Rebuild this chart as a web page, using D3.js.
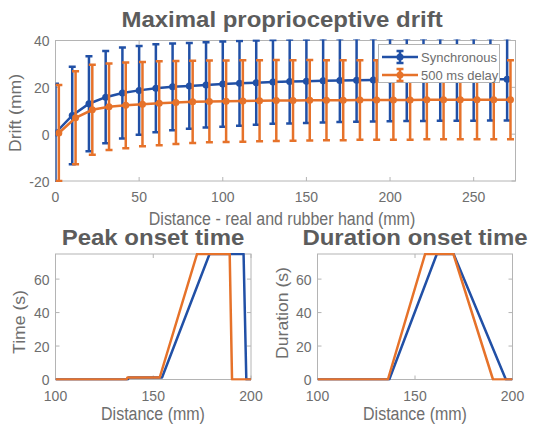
<!DOCTYPE html>
<html>
<head>
<meta charset="utf-8">
<script src="https://cdn.jsdelivr.net/npm/d3@7"></script>
<style>
  body { margin: 0; background: #fff; }
  svg { display: block; font-family: "Liberation Sans", Arial, sans-serif; }
</style>
</head>
<body>
<svg id="chart" width="533" height="425"></svg>
<script>
// drift vs distance (mm) -- synchronous vs 500 ms delay
var syncDist = [0,10,20,30,40,50,60,70,80,90,100,110,120,130,140,150,160,170,180,190,200,210,220,230,240,250,260,270];
var syncMean = [0.5,8,13,15.8,17.6,18.7,19.6,20.2,20.6,21,21.4,21.7,22,22.3,22.5,22.6,22.8,22.9,23,23.1,23.1,23.2,23.2,23.3,23.3,23.3,23.4,23.4];
var syncErr  = [21,20.8,20.3,19.7,19.4,19,18.8,18.5,18.3,18.2,18.2,18.1,18,17.9,17.9,17.8,17.8,17.7,17.7,17.7,17.6,17.6,17.6,17.6,17.6,17.6,17.6,17.6];
var delayDist = [2,12,22,32,42,52,62,72,82,92,102,112,122,132,142,152,162,172,182,192,202,212,222,232,242,252,262,272];
var delayMean = [0.5,7,10.4,11.7,12.3,12.8,13.2,13.5,13.8,14,14.1,14.2,14.3,14.4,14.4,14.5,14.5,14.5,14.6,14.6,14.6,14.6,14.7,14.7,14.7,14.7,14.7,14.7];
var delayErr  = [20.5,19.9,19.2,18.5,18.3,18,17.9,17.7,17.6,17.5,17.4,17.4,17.3,17.3,17.2,17.2,17.1,17.1,17,17,17,17,16.9,16.9,16.9,16.9,16.9,16.9];

// peak onset time (s) vs distance (mm)
var peakSyncX  = [100,137,137.5,154.5,178.8,196.2,197.6,200];
var peakSyncY  = [0,0,1.2,1.2,75,75,0,0];
var peakDelayX = [100,136.3,136.8,153.3,172.4,189.1,190.3,200];
var peakDelayY = [0,0,1.2,1.2,75,75,0,0];

// duration onset time (s) vs distance (mm)
var durSyncX  = [100,136.8,161.2,169.8,196.6,200];
var durSyncY  = [0,0,75,75,0,0];
var durDelayX = [100,136.1,155.2,169.7,190,200];
var durDelayY = [0,0,75,75,0,0];

var driftTicksX = [0,50,100,150,200,250];
var driftTicksY = [-20,0,20,40];
var onsetTicksX = [100,150,200];
var onsetTicksY = [0,20,40,60];

var BLUE = "#2150a6", ORANGE = "#e6722a";
var TXT = "#6e6e6e", TITLE = "#5c5c5c", BOX = "#b4b4b4";

var svg = d3.select("#chart");

// text helper; sy stretches glyphs vertically (the source image is a bit squashed)
function txt(x, y, s, size, opts) {
  opts = opts || {};
  var tr = "translate(" + x + "," + y + ") scale(1," + (opts.sy || 1) + ")";
  if (opts.rot) tr += " rotate(" + opts.rot + ")";
  return svg.append("text").attr("transform", tr)
    .attr("text-anchor", opts.anchor || "middle")
    .attr("font-size", size)
    .attr("font-weight", opts.bold ? "bold" : "normal")
    .attr("fill", opts.fill || TXT)
    .text(s);
}

function panel(x0, x1, y0, y1, xdom, ydom, xticks, yticks) {
  var x = d3.scaleLinear().domain(xdom).range([x0, x1]);
  var y = d3.scaleLinear().domain(ydom).range([y1, y0]);
  var g = svg.append("g");
  var id = "clip" + Math.round(x0) + "_" + Math.round(y0);
  svg.append("clipPath").attr("id", id).append("rect")
    .attr("x", x0).attr("y", y0 - 1).attr("width", x1 - x0).attr("height", y1 - y0 + 2);
  // ticks inside, both sides (matlab box)
  xticks.forEach(function(t){
    g.append("line").attr("x1", x(t)).attr("x2", x(t)).attr("y1", y1).attr("y2", y1 - 4)
      .attr("stroke", BOX).attr("stroke-width", 1);
    g.append("line").attr("x1", x(t)).attr("x2", x(t)).attr("y1", y0).attr("y2", y0 + 4)
      .attr("stroke", BOX).attr("stroke-width", 1);
    txt(x(t), y1 + 21, t, 14, {sy: 1.1});
  });
  yticks.forEach(function(t){
    g.append("line").attr("x1", x0).attr("x2", x0 + 4).attr("y1", y(t)).attr("y2", y(t))
      .attr("stroke", BOX).attr("stroke-width", 1);
    g.append("line").attr("x1", x1).attr("x2", x1 - 4).attr("y1", y(t)).attr("y2", y(t))
      .attr("stroke", BOX).attr("stroke-width", 1);
    txt(x0 - 6, y(t) + 5.5, t, 14, {sy: 1.1, anchor: "end"});
  });
  g.append("rect").attr("x", x0).attr("y", y0).attr("width", x1 - x0).attr("height", y1 - y0)
    .attr("fill", "none").attr("stroke", BOX).attr("stroke-width", 1);
  var data = svg.append("g").attr("clip-path", "url(#" + id + ")");
  return {x: x, y: y, g: data};
}

function errSeries(p, xs, ms, es, color) {
  var pts = xs.map(function(d, i){ return {x: d, m: ms[i], e: es[i]}; });
  pts.forEach(function(d){
    var cx = p.x(d.x), top = p.y(d.m + d.e), bot = p.y(d.m - d.e);
    p.g.append("line").attr("x1", cx).attr("x2", cx).attr("y1", top).attr("y2", bot)
      .attr("stroke", color).attr("stroke-width", 2.5);
    [top, bot].forEach(function(yy){
      p.g.append("line").attr("x1", cx - 3.5).attr("x2", cx + 3.5).attr("y1", yy).attr("y2", yy)
        .attr("stroke", color).attr("stroke-width", 2.5);
    });
  });
  p.g.append("path").datum(pts)
    .attr("d", d3.line().x(function(d){ return p.x(d.x); }).y(function(d){ return p.y(d.m); }))
    .attr("fill", "none").attr("stroke", color).attr("stroke-width", 2.5);
  p.g.selectAll(null).data(pts).enter().append("circle")
    .attr("cx", function(d){ return p.x(d.x); }).attr("cy", function(d){ return p.y(d.m); })
    .attr("r", 3.5).attr("fill", color);
}

function lineSeries(p, xs, ys, color) {
  var pts = xs.map(function(d, i){ return [d, ys[i]]; });
  p.g.append("path").datum(pts)
    .attr("d", d3.line().x(function(d){ return p.x(d[0]); }).y(function(d){ return p.y(d[1]); }))
    .attr("fill", "none").attr("stroke", color).attr("stroke-width", 2.5)
    .attr("stroke-linejoin", "round");
}

// ---- top: maximal proprioceptive drift
var driftPanel = panel(55.5, 515.5, 40.5, 181, [0, 275], [-20, 40], driftTicksX, driftTicksY);
errSeries(driftPanel, syncDist, syncMean, syncErr, BLUE);
errSeries(driftPanel, delayDist, delayMean, delayErr, ORANGE);

txt(282, 27, "Maximal proprioceptive drift", 24, {bold: true, fill: TITLE, sy: 0.92});
txt(282, 225, "Distance - real and rubber hand (mm)", 16, {sy: 1.1});
txt(21, 113, "Drift (mm)", 16, {sy: 1.1, rot: -90});

// legend
var lg = svg.append("g");
lg.append("rect").attr("x", 378.5).attr("y", 44.5).attr("width", 121).attr("height", 38)
  .attr("fill", "#fff").attr("stroke", BOX);
[["Synchronous", BLUE, 57], ["500 ms delay", ORANGE, 75]].forEach(function(e){
  var cy = e[2];
  lg.append("line").attr("x1", 382).attr("x2", 418).attr("y1", cy).attr("y2", cy)
    .attr("stroke", e[1]).attr("stroke-width", 2.5);
  lg.append("line").attr("x1", 400).attr("x2", 400).attr("y1", cy - 6).attr("y2", cy + 6)
    .attr("stroke", e[1]).attr("stroke-width", 2.5);
  [cy - 6, cy + 6].forEach(function(yy){
    lg.append("line").attr("x1", 396.5).attr("x2", 403.5).attr("y1", yy).attr("y2", yy)
      .attr("stroke", e[1]).attr("stroke-width", 2.5);
  });
  lg.append("circle").attr("cx", 400).attr("cy", cy).attr("r", 3.5).attr("fill", e[1]);
  lg.append("text").attr("x", 421).attr("y", cy + 5).attr("font-size", 13).attr("fill", TXT).text(e[0]);
});

// ---- bottom left: peak onset time
var pk = panel(55.5, 251, 254, 379.5, [100, 200], [0, 75], onsetTicksX, onsetTicksY);
lineSeries(pk, peakSyncX, peakSyncY, BLUE);
lineSeries(pk, peakDelayX, peakDelayY, ORANGE);
txt(153, 245, "Peak onset time", 24, {bold: true, fill: TITLE, sy: 0.92});
txt(153, 420, "Distance (mm)", 16, {sy: 1.1});
txt(25, 322, "Time (s)", 16, {sy: 1.1, rot: -90});

// ---- bottom right: duration onset time
var du = panel(317.5, 512.5, 254, 379.5, [100, 200], [0, 75], onsetTicksX, onsetTicksY);
lineSeries(du, durSyncX, durSyncY, BLUE);
lineSeries(du, durDelayX, durDelayY, ORANGE);
txt(415, 245, "Duration onset time", 24, {bold: true, fill: TITLE, sy: 0.92});
txt(415, 420, "Distance (mm)", 16, {sy: 1.1});
txt(288, 313, "Duration (s)", 16, {sy: 1.1, rot: -90});
</script>
</body>
</html>
